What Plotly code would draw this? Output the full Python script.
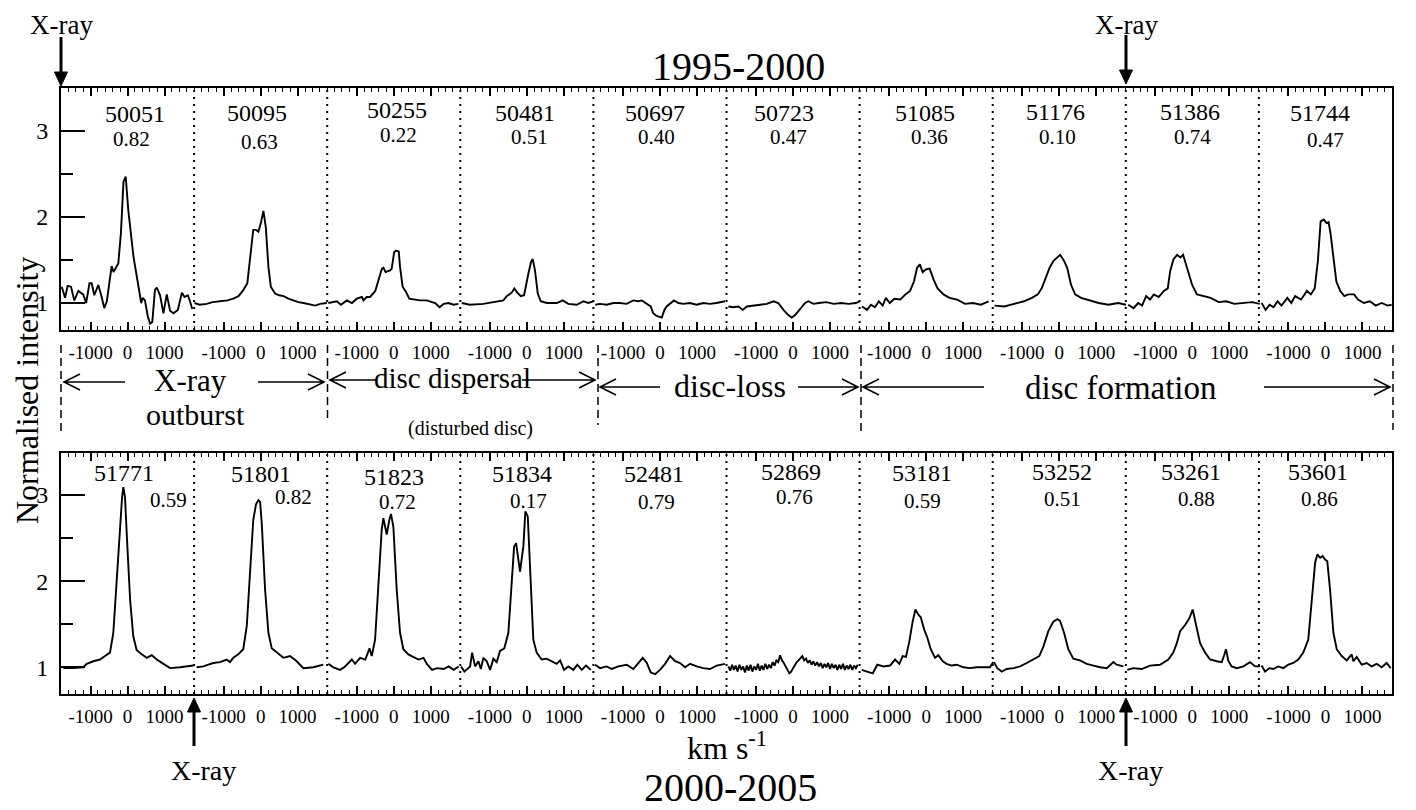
import plotly.graph_objects as go

# ---------------- data ----------------
TICK_V = [-1000, 0, 1000]
TICK_LABELS = ["-1000", "0", "1000"]

TOP_MJD = ["50051", "50095", "50255", "50481", "50697", "50723", "51085", "51176", "51386", "51744"]
TOP_PHASE = ["0.82", "0.63", "0.22", "0.51", "0.40", "0.47", "0.36", "0.10", "0.74", "0.47"]
BOT_MJD = ["51771", "51801", "51823", "51834", "52481", "52869", "53181", "53252", "53261", "53601"]
BOT_PHASE = ["0.59", "0.82", "0.72", "0.17", "0.79", "0.76", "0.59", "0.51", "0.88", "0.86"]

V_50051 = [-1780, -1690, -1620, -1530, -1440, -1330, -1200, -1120, -1030, -970, -900, -790, -700, -630, -560,
           -470, -430, -380, -250, -180, -110, -50, 20, 160, 270, 370, 410, 470, 550, 610, 670, 740, 790, 880,
           970, 1060, 1150, 1240, 1360, 1470, 1540, 1630, 1690, 1750]
I_50051 = [1.19, 1.06, 1.20, 1.19, 1.03, 1.14, 1.10, 1.00, 1.23, 1.23, 1.09, 1.21, 1.07, 0.94, 1.02,
           1.34, 1.43, 1.36, 1.46, 1.81, 2.41, 2.47, 2.08, 1.54, 1.23, 1.00, 1.06, 1.03, 0.84, 0.76, 0.78, 1.15,
           1.18, 1.09, 0.88, 1.10, 0.91, 0.88, 0.92, 1.12, 1.07, 1.09, 1.02, 0.93]

V_50095 = [-1790, -1650, -1460, -1300, -1100, -900, -740, -600, -470, -360, -270, -200, -125, -60, 0, 75, 140,
           210, 275, 390, 500, 620, 750, 890, 1020, 1160, 1340, 1480, 1610, 1790]
I_50095 = [1.00, 0.98, 0.99, 1.01, 1.02, 1.03, 1.05, 1.08, 1.15, 1.23, 1.58, 1.85, 1.85, 1.83, 1.92, 2.07, 1.88,
           1.42, 1.19, 1.11, 1.09, 1.08, 1.05, 1.03, 1.01, 1.00, 0.98, 0.97, 0.99, 1.00]

V_50255 = [-1770, -1540, -1430, -1270, -1130, -1000, -860, -820, -730, -640, -500, -410, -320, -280, -220, -100,
           -55, 10, 60, 135, 170, 240, 330, 420, 580, 710, 890, 1120, 1240, 1350, 1480, 1620, 1750]
I_50255 = [1.00, 1.02, 0.98, 1.03, 1.00, 1.05, 1.07, 1.03, 1.07, 1.07, 1.14, 1.27, 1.40, 1.41, 1.36, 1.38,
           1.40, 1.59, 1.61, 1.60, 1.42, 1.19, 1.13, 1.05, 1.04, 1.03, 1.03, 1.00, 0.95, 0.99, 1.00, 0.98, 0.99]

V_50481 = [-1760, -1540, -1180, -815, -635, -545, -410, -340, -275, -165, -75, 40, 115, 160, 220, 295, 375, 540,
           810, 970, 1120, 1350, 1530, 1660, 1800]
I_50481 = [1.00, 0.98, 0.99, 1.02, 1.03, 1.08, 1.12, 1.17, 1.13, 1.08, 1.09, 1.34, 1.48, 1.51, 1.38, 1.11, 1.02,
           1.00, 1.00, 1.03, 0.99, 0.98, 1.02, 1.00, 1.02]

V_50697 = [-1750, -1620, -1440, -1260, -1080, -900, -720, -585, -490, -360, -250, -180, -90, 50, 120, 180, 290,
           380, 500, 630, 810, 990, 1170, 1350, 1530, 1760]
I_50697 = [0.98, 0.99, 0.98, 1.00, 1.00, 0.99, 1.03, 1.02, 1.03, 0.99, 0.96, 0.88, 0.85, 0.83, 0.92, 0.96, 1.00,
           1.03, 1.00, 0.99, 1.00, 0.98, 1.00, 0.99, 1.00, 1.02]

V_50723 = [-1750, -1620, -1480, -1360, -1250, -1070, -890, -710, -530, -400, -260, -130, -35, 55, 190, 325, 415,
           550, 700, 900, 1100, 1300, 1500, 1700, 1800]
I_50723 = [0.96, 0.95, 0.96, 0.92, 0.96, 0.97, 0.98, 0.99, 1.02, 1.00, 0.92, 0.86, 0.83, 0.86, 0.93, 1.00, 1.02,
           0.99, 1.00, 1.01, 0.99, 1.00, 0.99, 1.00, 1.02]

V_51085 = [-1735, -1600, -1495, -1385, -1280, -1175, -1090, -985, -860, -700, -560, -435, -330, -245, -170, -95,
           -10, 95, 205, 310, 470, 630, 840, 1050, 1265, 1480, 1690]
I_51085 = [0.96, 0.92, 0.98, 0.95, 1.02, 0.97, 1.06, 1.00, 1.05, 1.04, 1.10, 1.14, 1.25, 1.41, 1.45, 1.36,
           1.39, 1.40, 1.27, 1.17, 1.10, 1.06, 1.04, 0.99, 1.00, 0.98, 1.02]

V_51176 = [-1750, -1485, -1220, -955, -740, -580, -475, -365, -260, -155, -50, 25, 130, 215, 320, 430, 590, 800,
           1065, 1330, 1595, 1805]
I_51176 = [0.97, 0.96, 0.99, 1.02, 1.06, 1.10, 1.17, 1.29, 1.41, 1.49, 1.53, 1.56, 1.49, 1.41, 1.21, 1.10, 1.06,
           1.03, 1.00, 0.98, 1.00, 0.98]

V_51386 = [-1735, -1590, -1465, -1360, -1250, -1145, -1040, -910, -770, -665, -600, -510, -410, -325, -250, -145,
           -5, 125, 285, 495, 710, 920, 1135, 1400, 1615, 1825]
I_51386 = [0.98, 0.94, 1.00, 0.97, 1.08, 1.04, 1.10, 1.07, 1.14, 1.17, 1.37, 1.51, 1.56, 1.53, 1.56, 1.41,
           1.21, 1.10, 1.08, 1.06, 1.01, 1.02, 0.99, 1.00, 1.01, 0.99]

V_51744 = [-1725, -1620, -1510, -1405, -1295, -1190, -1030, -925, -820, -660, -500, -395, -290, -205, -130, -45,
           30, 85, 140, 220, 295, 400, 510, 615, 775, 880, 1040, 1200, 1360, 1520, 1680, 1790]
I_51744 = [1.00, 0.92, 0.98, 0.95, 1.02, 0.97, 1.06, 1.00, 1.08, 1.04, 1.14, 1.10, 1.17, 1.49, 1.95, 1.97,
           1.93, 1.94, 1.80, 1.49, 1.25, 1.14, 1.08, 1.10, 1.10, 1.04, 1.00, 1.02, 0.97, 1.00, 0.97, 0.98]

V_51771 = [-1735, -1465, -1195, -1105, -925, -745, -610, -475, -385, -290, -200, -150, -115, -70, -5, 70, 155,
           245, 385, 520, 655, 790, 970, 1150, 1420, 1780]
I_51771 = [0.99, 0.99, 1.00, 1.04, 1.07, 1.09, 1.13, 1.17, 1.40, 2.02, 2.67, 2.96, 3.09, 2.98, 2.40, 1.78, 1.36,
           1.20, 1.15, 1.11, 1.14, 1.09, 1.04, 0.99, 1.00, 1.02]

V_51801 = [-1730, -1550, -1415, -1280, -1100, -920, -830, -740, -605, -470, -375, -285, -200, -125, -60, -15, 30,
           120, 210, 300, 435, 615, 795, 975, 1155, 1425, 1695]
I_51801 = [1.00, 1.01, 1.03, 1.05, 1.06, 1.09, 1.06, 1.11, 1.15, 1.21, 1.48, 2.09, 2.71, 2.89, 2.94, 2.92, 2.67,
           1.90, 1.40, 1.22, 1.17, 1.11, 1.13, 1.07, 0.99, 1.00, 1.03]

V_51823 = [-1770, -1635, -1450, -1315, -1135, -1045, -910, -770, -655, -595, -505, -415, -325, -280, -190, -120,
           -75, -10, 80, 170, 260, 395, 535, 670, 805, 895, 1035, 1170, 1350, 1485, 1620, 1755]
I_51823 = [1.04, 1.00, 0.97, 1.01, 1.09, 1.04, 1.11, 1.09, 1.22, 1.13, 1.32, 1.90, 2.60, 2.73, 2.54, 2.71,
           2.78, 2.63, 1.90, 1.40, 1.21, 1.15, 1.12, 1.09, 1.11, 1.04, 0.97, 0.99, 0.98, 1.01, 0.97, 1.01]

V_51834 = [-1780, -1690, -1535, -1480, -1400, -1310, -1245, -1175, -1085, -995, -905, -815, -725, -610, -500,
           -410, -345, -290, -185, -95, -40, 25, 105, 175, 265, 400, 535, 670, 805, 900, 1005, 1120, 1260, 1365,
           1485, 1600, 1730]
I_51834 = [1.01, 0.95, 1.01, 1.17, 1.01, 1.07, 0.98, 1.11, 1.07, 0.97, 1.10, 1.06, 1.19, 1.22, 1.40,
           1.94, 2.40, 2.44, 2.11, 2.40, 2.81, 2.75, 2.02, 1.32, 1.17, 1.09, 1.10, 1.07, 1.04, 1.08, 0.97, 1.01,
           0.97, 1.03, 0.97, 1.02, 0.97]

V_52481 = [-1755, -1620, -1440, -1305, -1125, -900, -720, -585, -465, -355, -250, -130, 0, 140, 275, 410, 545,
           680, 815, 995, 1175, 1355, 1535, 1760]
I_52481 = [1.03, 0.99, 1.01, 0.98, 1.01, 1.03, 0.98, 1.05, 1.11, 1.05, 0.94, 0.92, 0.97, 1.04, 1.13, 1.07, 1.05,
           1.00, 1.04, 1.01, 0.99, 0.98, 1.02, 1.04]

V_52869 = [-1750, -1700, -1650, -1600, -1550, -1500, -1450, -1400, -1350, -1300, -1250, -1200, -1150, -1100,
           -1050, -1000, -950, -900, -850, -800, -750, -700, -650, -600, -550, -500, -450, -400, -350, -300,
           -250, -200, -150, -100, -50, 0, 50, 100, 150, 200, 250, 300, 350, 400, 450, 500, 550, 600, 650, 700,
           750, 800, 850, 900, 950, 1000, 1050, 1100, 1150, 1200, 1250, 1300, 1350, 1400, 1450, 1500, 1550,
           1600, 1650, 1700, 1750]
I_52869 = [1.01, 0.96, 1.03, 0.97, 1.02, 0.95, 1.03, 0.97, 1.01, 0.94, 1.02, 0.96, 1.03, 0.95,
           1.01, 0.97, 1.04, 0.96, 1.02, 0.97, 1.04, 0.98, 1.03, 0.99, 1.06, 1.02, 1.08, 1.06, 1.14, 1.08,
           1.05, 1.00, 0.97, 0.93, 0.95, 0.99, 1.03, 1.06, 1.08, 1.10, 1.13, 1.08, 1.10, 1.05, 1.08, 1.03, 1.07,
           1.02, 1.06, 1.01, 1.05, 0.99, 1.04, 1.00, 1.05, 0.98, 1.04, 0.99, 1.03, 0.97, 1.03, 0.98, 1.04, 0.97,
           1.02, 0.98, 1.03, 0.97, 1.02, 0.99, 1.03]

V_53181 = [-1745, -1605, -1445, -1320, -1155, -975, -840, -725, -635, -545, -455, -365, -290, -210, -145, -55,
           35, 125, 240, 330, 450, 555, 690, 830, 1005, 1185, 1365, 1545, 1725, 1815]
I_53181 = [0.97, 0.95, 0.93, 1.03, 1.01, 1.02, 1.09, 1.04, 1.13, 1.12, 1.30, 1.53, 1.67, 1.61, 1.58, 1.44,
           1.34, 1.21, 1.11, 1.14, 1.07, 1.04, 1.02, 1.03, 1.00, 0.99, 1.00, 1.00, 1.00, 1.06]

V_53252 = [-1765, -1675, -1555, -1420, -1240, -1060, -880, -700, -540, -430, -295, -160, -50, 20, 130, 245, 380,
           560, 745, 925, 1105, 1285, 1465, 1555, 1735]
I_53252 = [1.06, 0.99, 0.95, 0.98, 0.99, 1.01, 1.05, 1.09, 1.13, 1.24, 1.42, 1.53, 1.56, 1.54, 1.40, 1.21, 1.10,
           1.08, 1.04, 1.02, 1.00, 0.99, 1.06, 1.03, 1.01]

V_53261 = [-1760, -1600, -1370, -1145, -875, -650, -515, -420, -330, -195, -80, 10, 100, 210, 345, 480, 660, 795,
           860, 910, 975, 1065, 1200, 1380, 1560, 1695, 1830]
I_53261 = [0.97, 0.99, 0.98, 1.02, 1.03, 1.09, 1.17, 1.28, 1.42, 1.49, 1.57, 1.67, 1.49, 1.28, 1.17, 1.09, 1.07,
           1.06, 1.14, 1.21, 1.07, 1.01, 0.99, 1.01, 1.06, 1.01, 1.01]

V_53601 = [-1725, -1635, -1520, -1410, -1275, -1140, -1005, -870, -735, -600, -465, -375, -280, -220, -145, -75,
           -10, 50, 125, 215, 305, 440, 575, 710, 755, 845, 980, 1115, 1250, 1385, 1520, 1655, 1765]
I_53601 = [1.02, 0.95, 0.99, 0.98, 1.01, 0.99, 1.03, 1.05, 1.09, 1.17, 1.32, 1.78, 2.21, 2.31, 2.27, 2.29,
           2.25, 2.23, 1.90, 1.40, 1.21, 1.13, 1.08, 1.15, 1.07, 1.12, 1.03, 1.05, 1.01, 1.04, 1.00, 1.05, 0.99]

TOP_SPECTRA = [(V_50051, I_50051), (V_50095, I_50095), (V_50255, I_50255), (V_50481, I_50481),
               (V_50697, I_50697), (V_50723, I_50723), (V_51085, I_51085), (V_51176, I_51176),
               (V_51386, I_51386), (V_51744, I_51744)]
BOT_SPECTRA = [(V_51771, I_51771), (V_51801, I_51801), (V_51823, I_51823), (V_51834, I_51834),
               (V_52481, I_52481), (V_52869, I_52869), (V_53181, I_53181), (V_53252, I_53252),
               (V_53261, I_53261), (V_53601, I_53601)]

# ---------------- layout / style ----------------
FONT = "Liberation Serif"
PAGE_W, PAGE_H = 1416, 810
OFF = 8                      # default body margin of the html page
FW, FH = PAGE_W - OFF, PAGE_H - OFF
PL, PR = 61, 1392            # plot area in page pixels


def fx(p):
    return (p - PL) / (PR - PL)


def fy(p):
    return 1 - (p - OFF) / FH


PANEL = 3600
HALF = 1800
NP = 10
offsets = [HALF + PANEL * k for k in range(NP)]

# label positions (page pixels)
TOP_MJD_POS = [(135, 114), (257, 113), (397, 110), (525, 113), (655, 113), (784, 113), (925, 113), (1055, 112),
               (1190, 112), (1320, 113)]
TOP_PH_POS = [(131, 139), (259, 142), (398, 135), (529, 137), (656, 137), (788, 137), (929, 137), (1057, 137),
              (1192, 137), (1325, 140)]
BOT_MJD_POS = [(124, 473), (261, 474), (394, 477), (522, 474), (654, 474), (791, 472), (922, 473), (1062, 472),
               (1191, 472), (1318, 472)]
BOT_PH_POS = [(168, 500), (293, 497), (397, 502), (528, 501), (656, 502), (794, 497), (922, 501), (1062, 499),
              (1196, 499), (1319, 499)]

fig = go.Figure()
for spectra, xa, ya in ((TOP_SPECTRA, "x", "y"), (BOT_SPECTRA, "x2", "y2")):
    for k, (v, iy) in enumerate(spectra):
        fig.add_trace(go.Scatter(x=[offsets[k] + a for a in v], y=iy, mode="lines",
                                 line=dict(color="black", width=1.9), xaxis=xa, yaxis=ya,
                                 showlegend=False, hoverinfo="skip"))

tickvals = [offsets[k] + t for k in range(NP) for t in TICK_V]
ticktext = [lab for k in range(NP) for lab in TICK_LABELS]

xcommon = dict(range=[0, PANEL * NP], tickmode="array", tickvals=tickvals, ticktext=ticktext,
               ticks="inside", ticklen=8, tickwidth=1.5, tickcolor="black",
               showline=True, linewidth=2, linecolor="black", mirror="ticks",
               showgrid=False, zeroline=False,
               tickfont=dict(family=FONT, size=19, color="black"), ticklabelstandoff=4,
               minor=dict(tickmode="linear", tick0=0, dtick=200, ticks="inside", ticklen=4,
                          tickwidth=1, tickcolor="black", showgrid=False))
ycommon = dict(tickmode="array", tickvals=[1, 2, 3], ticktext=["1", "2", "3"],
               ticks="inside", ticklen=24, tickwidth=2, tickcolor="black",
               showline=True, linewidth=2, linecolor="black", mirror=True,
               showgrid=False, zeroline=False,
               tickfont=dict(family=FONT, size=24, color="black"), ticklabelstandoff=6,
               minor=dict(tickmode="array", tickvals=[1.5, 2.5], ticks="inside", ticklen=12,
                          tickwidth=2, tickcolor="black", showgrid=False))

fig.update_layout(
    width=FW, height=FH,
    margin=dict(l=PL - OFF, r=FW - (PR - OFF), t=0, b=0, autoexpand=False),
    paper_bgcolor="white", plot_bgcolor="white",
    showlegend=False,
    xaxis=dict(anchor="y", **xcommon),
    yaxis=dict(anchor="x", domain=[fy(330), fy(88)], range=[0.686, 3.5], **ycommon),
    xaxis2=dict(anchor="y2", **xcommon),
    yaxis2=dict(anchor="x2", domain=[fy(694), fy(452.7)], range=[0.69, 3.49], **ycommon),
)

shapes = []
# dotted dividers between spectra
for k in range(1, NP):
    for xr, yr in (("x", "y domain"), ("x2", "y2 domain")):
        shapes.append(dict(type="line", xref=xr, yref=yr, x0=PANEL * k, x1=PANEL * k, y0=0, y1=1,
                           line=dict(color="black", width=2, dash="2px,5px")))

# dashed phase-region separators
for xp, y0, y1 in ((61, 345, 432), (327.5, 345, 418), (598, 345, 425), (861, 345, 431), (1393, 345, 430)):
    shapes.append(dict(type="line", xref="paper", yref="paper", x0=fx(xp), x1=fx(xp), y0=fy(y0), y1=fy(y1),
                       line=dict(color="black", width=1.5, dash="8px,5px")))


def open_arrow(xt, xh, y):
    d = 1 if xh > xt else -1
    hx = xh - d * 16
    return (f"M{fx(xt)},{fy(y)} L{fx(xh)},{fy(y)} "
            f"M{fx(hx)},{fy(y - 8)} L{fx(xh)},{fy(y)} L{fx(hx)},{fy(y + 8)}")


for xt, xh, y in ((125, 64, 382), (258, 324, 382), (376, 330, 380), (522, 595, 380),
                  (660, 600, 387), (798, 858, 387), (984, 863, 387), (1264, 1390, 387)):
    shapes.append(dict(type="path", xref="paper", yref="paper", path=open_arrow(xt, xh, y),
                       line=dict(color="black", width=1.6)))

# X-ray markers: vertical arrows with filled heads
for xp, tail, tip in ((61, 37, 86), (1126, 35, 84), (194, 746, 698), (1126, 746, 698)):
    d = 1 if tip > tail else -1
    base = tip - d * 14
    shapes.append(dict(type="line", xref="paper", yref="paper", x0=fx(xp), x1=fx(xp),
                       y0=fy(tail), y1=fy(base), line=dict(color="black", width=3)))
    shapes.append(dict(type="path", xref="paper", yref="paper",
                       path=f"M{fx(xp - 6.5)},{fy(base)} L{fx(xp)},{fy(tip)} L{fx(xp + 6.5)},{fy(base)} Z",
                       fillcolor="black", line=dict(color="black", width=1)))

fig.update_layout(shapes=shapes)

ann = []


def text(s, xp, yp, size, angle=0):
    ann.append(dict(text=s, x=fx(xp), y=fy(yp), xref="paper", yref="paper", showarrow=False,
                    xanchor="center", yanchor="middle", textangle=angle,
                    font=dict(family=FONT, size=size, color="black")))


for labels, pos, size in ((TOP_MJD, TOP_MJD_POS, 24), (TOP_PHASE, TOP_PH_POS, 21),
                          (BOT_MJD, BOT_MJD_POS, 24), (BOT_PHASE, BOT_PH_POS, 21)):
    for s, (xp, yp) in zip(labels, pos):
        text(s, xp, yp, size)

text("1995-2000", 738, 66, 40)
text("km s<sup>-1</sup>", 727, 746, 32)
text("2000-2005", 730, 787, 40)
text("Normalised intensity", 27, 390, 32, angle=-90)

text("X-ray", 190, 381, 31)
text("outburst", 195, 414, 30)
text("disc dispersal", 452, 378, 29)
text("(disturbed disc)", 470, 428, 20)
text("disc-loss", 730, 386, 32)
text("disc formation", 1121, 388, 33)

text("X-ray", 61, 25, 27)
text("X-ray", 1126, 25, 27)
text("X-ray", 203, 770, 28)
text("X-ray", 1130, 770, 28)

fig.update_layout(annotations=ann)

fig.write_html("out.html", config={"displayModeBar": False})
